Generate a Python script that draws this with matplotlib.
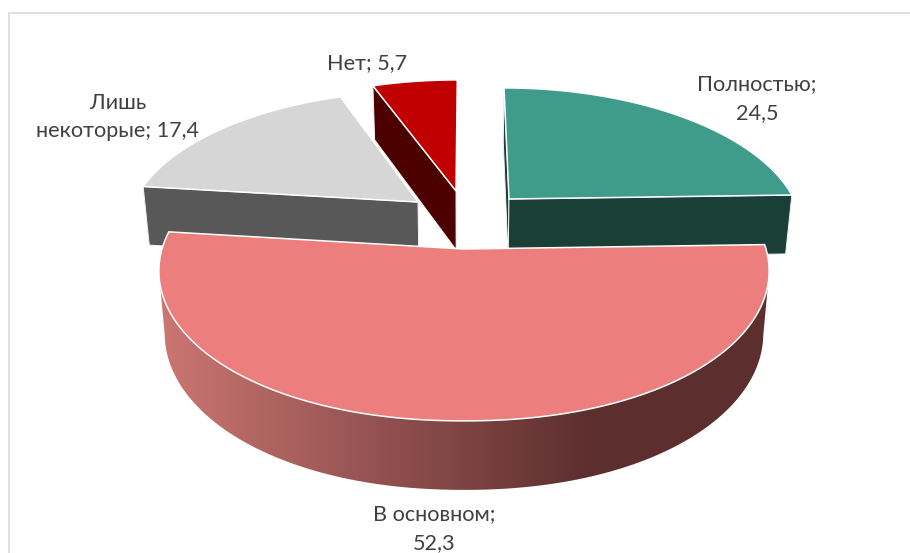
import numpy as np
import matplotlib
matplotlib.use('Agg')
import matplotlib.pyplot as plt
from matplotlib.colors import LinearSegmentedColormap
from matplotlib.patches import Polygon

categories = ['Полностью', 'В основном', 'Лишь некоторые', 'Нет']
values = [24.5, 52.3, 17.4, 5.7]

top_colors = ['#3f9c8a', '#ec7e7e', '#d6d6d6', '#c00000']
side_colors = ['#1a3f36', '#5c2e2e', '#585858', '#4d0000']
# apex of each exploded slice in pixels, its radius and how it narrows with depth
apex_pos = [(509, 199), (464, 249), (418, 202), (456, 191)]
radius = [285, 302, 284, 283]
depth_h = [135, 148, 135, 135]
persp = [0.2155, 0.139, 0.2155, 0.2155]
narrow = [0.2155, 0.139, 0.19, 0.19]
fullness = [1, 0.95, 1, 1]
vanish_x = [481, 464, 464, 464]
# centre of each label block
label_pos = [(757, 99), (434, 529), (118, 117), (367, 63)]

plt.rcParams['font.family'] = ['Lato', 'DejaVu Sans']


def arc_points(i, a0, a1, n=160):
    t = np.radians(np.linspace(a0, a1, n))
    u, v = np.sin(t), np.cos(t)
    sx = 1 / (1 + narrow[i] * v)
    s = 1 / (1 + persp[i] * v)
    u = np.sign(u) * np.abs(u) ** fullness[i]
    x = apex_pos[i][0] + (apex_pos[i][0] - vanish_x[i]) * (sx - 1) + radius[i] * u * sx
    y = apex_pos[i][1] - depth_h[i] * v * s
    return np.column_stack([x, y])


def lower(pts):
    # same points on the bottom of the pie, a little smaller and further down
    pts = np.atleast_2d(pts)
    x = 464 + (pts[:, 0] - 464) * 0.981
    y = pts[:, 1] + 59 + (pts[:, 1] - 196) * 10 / 225
    return np.column_stack([x, y])


def radial_face(ax, p, q, color, z):
    pts = np.array([p, q])
    poly = np.vstack([pts, lower(pts)[::-1]])
    ax.add_patch(Polygon(poly, closed=True, fc=color, ec='#f4f4f4', lw=0.7, zorder=z))


fig = plt.figure(figsize=(9.1, 5.53), dpi=100)
ax = fig.add_axes([0, 0, 1, 1])

ax.plot([8.5, 8.5, 910], [553, 13, 13], color='#d9d9d9', lw=1.2, zorder=0)

edges = np.cumsum([0] + values) / sum(values) * 360
draw_order = [3, 2, 0, 1]

for i in draw_order:
    a0, a1 = edges[i], edges[i + 1]
    apex = apex_pos[i]
    arc = arc_points(i, a0, a1)
    z = 2 + draw_order.index(i) * 2

    if categories[i] == 'В основном':
        # band between the widest points, so the outline stays closed at the sides
        low = lower(arc)
        ir, il = arc[:, 0].argmax(), arc[:, 0].argmin()
        jr, jl = low[:, 0].argmax(), low[:, 0].argmin()
        wall = np.vstack([arc[ir:il + 1], low[jr:jl + 1][::-1]])
        cmap = LinearSegmentedColormap.from_list(
            'wall', [(0, '#cb7673'), (0.71, side_colors[i]), (1, side_colors[i])])
        grad = np.linspace(0, 1, 256).reshape(1, -1)
        clip = Polygon(wall, closed=True, transform=ax.transData, fc='none', ec='none')
        ax.add_patch(clip)
        im = ax.imshow(grad, cmap=cmap, extent=(160, 770, 500, 230), aspect='auto', zorder=z)
        im.set_clip_path(clip)
    elif categories[i] == 'Полностью':
        radial_face(ax, arc[0], apex, side_colors[i], z)
        radial_face(ax, apex, arc[-1], side_colors[i], z)
    else:
        radial_face(ax, arc[0], apex, side_colors[i], z)

    ax.add_patch(Polygon(np.vstack([[apex], arc]), closed=True, fc=top_colors[i],
                         ec='white', lw=1.1, zorder=z + 1))

for cat, val, pos in zip(categories, values, label_pos):
    val_txt = str(val).replace('.', ',')
    if cat == 'Лишь некоторые':
        txt = 'Лишь\nнекоторые; ' + val_txt
    elif cat == 'Нет':
        txt = cat + '; ' + val_txt
    else:
        txt = cat + ';\n' + val_txt
    ax.text(pos[0], pos[1], txt, ha='center', va='center', fontsize=15.6,
            color='#404040', linespacing=1.56, zorder=20)

ax.set_xlim(0, 910)
ax.set_ylim(553, 0)
ax.axis('off')
fig.savefig('out.png', dpi=100, facecolor='white')
